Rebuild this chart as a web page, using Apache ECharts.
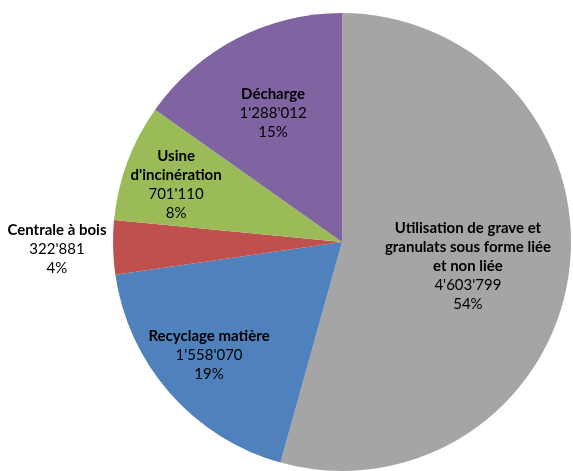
<!DOCTYPE html>
<html>
<head>
<meta charset="utf-8">
<style>
  html, body { margin: 0; padding: 0; background: #ffffff; }
  #chart { width: 573px; height: 471px; }
</style>
<script src="https://cdn.jsdelivr.net/npm/echarts@6/dist/echarts.min.js"></script>
</head>
<body>
<div id="chart"></div>
<script>
// Destination of excavated material (tonnes)
const categories = [
  'Utilisation de grave et\ngranulats sous forme liée\net non liée',
  'Recyclage matière',
  'Centrale à bois',
  "Usine\nd'incinération",
  'Décharge'
];
const values = [4603799, 1558070, 322881, 701110, 1288012];
const colors = ['#A5A5A5', '#4F81BD', '#C0504D', '#9BBB59', '#8064A2'];

// Pie geometry and label placement (fraction of the radius, extra vertical nudge in px)
const CENTER = [342, 242];
const RADIUS = 229;
const LABEL_RADIUS = [0.555, 0.773, 1.245, 0.773, 0.655];
const LABEL_NUDGE_Y = [7, -4, 0, 4, 4];

function fmtThousands(v) {
  return String(v).replace(/\B(?=(\d{3})+(?!\d))/g, "'");
}

const chart = echarts.init(document.getElementById('chart'), null, { renderer: 'canvas' });

const FONT = 'Lato, "Open Sans", sans-serif';

chart.setOption({
  animation: false,
  backgroundColor: '#ffffff',
  series: [{
    type: 'pie',
    center: CENTER,
    radius: [0, RADIUS],
    startAngle: 90,
    clockwise: true,
    percentPrecision: 0,
    avoidLabelOverlap: false,
    itemStyle: { borderWidth: 0 },
    emphasis: { disabled: true },
    label: {
      show: true,
      position: 'inside',
      color: '#000000',
      fontFamily: FONT,
      formatter: function (p) {
        return '{b|' + p.name + '}\n{v|' + fmtThousands(p.value) + '}\n{v|' + p.percent + '%}';
      },
      rich: {
        b: { fontFamily: FONT, fontSize: 15, fontWeight: 'bold', color: '#000', lineHeight: 19, align: 'center' },
        v: { fontFamily: FONT, fontSize: 15, fontWeight: 'normal', color: '#000', lineHeight: 19, align: 'center' }
      }
    },
    labelLine: { show: false },
    labelLayout: function (params) {
      const i = params.dataIndex;
      const r = params.labelRect;
      const lx = r.x + r.width / 2;
      const ly = r.y + r.height / 2;
      const ux = lx - CENTER[0];
      const uy = ly - CENTER[1];
      const d = Math.hypot(ux, uy) || 1;
      const target = LABEL_RADIUS[i] * RADIUS;
      return {
        dx: ux / d * (target - d),
        dy: uy / d * (target - d) + LABEL_NUDGE_Y[i]
      };
    },
    data: categories.map(function (name, i) {
      return { name: name, value: values[i], itemStyle: { color: colors[i] } };
    })
  }]
});
</script>
</body>
</html>
